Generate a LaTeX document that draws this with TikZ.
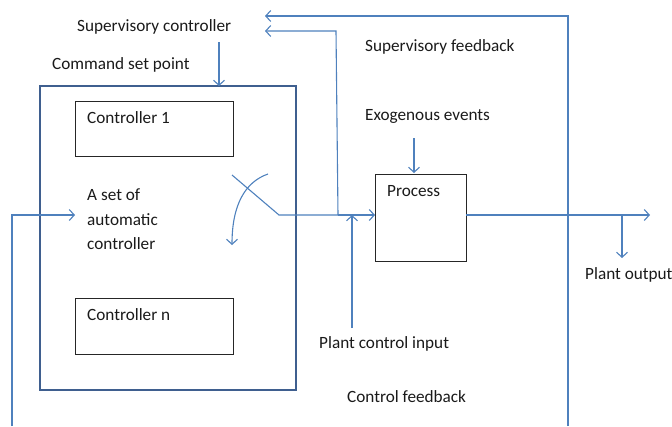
\documentclass[tikz,border=0pt]{standalone}
\usepackage{fontspec}
\setmainfont{Carlito}
\usetikzlibrary{arrows.meta}
\definecolor{lblue}{HTML}{4F81BD}
\definecolor{dblue}{HTML}{3F5F8F}
\definecolor{txt}{HTML}{1A1A1A}
\begin{document}
\begin{tikzpicture}[x=1pt,y=-1pt,
  conn/.style={draw=lblue,line width=1.1pt},
  arr/.style={conn,-{Straight Barb[length=5pt,width=11pt]}},
  lbl/.style={anchor=west,inner sep=0pt,text=txt,font=\fontsize{17.2}{24.5}\selectfont},
  ctrlbox/.style={draw=black!85,line width=1.2pt}]
\useasboundingbox (0,0) rectangle (672,426);
% big box
\draw[draw=dblue,line width=2.2pt] (40,86) -- (255,86);
\draw[draw=dblue,line width=2.6pt,line join=miter] (255,86) -- (296,86) -- (296,390) -- (40,390) -- (40,85);
\node[ctrlbox,minimum width=158pt,minimum height=55pt,anchor=north west] (c1) at (75,101) {};
\node[ctrlbox,minimum width=158pt,minimum height=56pt,anchor=north west] (cn) at (75,298) {};
\node[ctrlbox,minimum width=91pt,minimum height=87pt,anchor=north west] (proc) at (375,174) {};
% texts
\node[lbl] (tsc) at (77,27) {Supervisory controller};
\node[lbl] (tcsp) at (52,65) {Command set point};
\node[lbl] (tc1) at (87,118) {Controller 1};
\node[lbl,align=left,anchor=north west] (tset) at (87,189) {A set of\\automatic\\controller};
\node[lbl] (tcn) at (87,315) {Controller n};
\node[lbl] (tsf) at (365,47) {Supervisory feedback};
\node[lbl] (tex) at (365,116) {Exogenous events};
\node[lbl] (tpr) at (387,191) {Process};
\node[lbl] (tpo) at (585,275) {Plant output};
\node[lbl] (tpci) at (319,344) {Plant control input};
\node[lbl] (tcf) at (347,397) {Control feedback};
% coordinates
\coordinate (scin) at (219,42);
\coordinate (boxtop) at (219,86);
\coordinate (sw1) at (232,175);
\coordinate (sw2) at (279,215);
\coordinate (jn) at (338,215);
\coordinate (procin) at (375,215);
\coordinate (procout) at (466,215);
\coordinate (outend) at (650,215);
\coordinate (br) at (622,215);
\coordinate (brend) at (622,258);
\coordinate (pcibot) at (352,328);
\coordinate (pcitop) at (352,215);
\coordinate (exs) at (414,138);
\coordinate (exe) at (414,173);
\coordinate (sf1s) at (568,426);
\coordinate (sf1t) at (568,16);
\coordinate (sf1e) at (265,16);
\coordinate (sf2t) at (336,31);
\coordinate (sf2e) at (265,31);
\coordinate (lfb) at (12,426);
\coordinate (lfc) at (12,215);
\coordinate (lfe) at (75,215);
\coordinate (arcs) at (268,174);
\coordinate (arce) at (232,245);
% connectors
\draw[arr] (scin) -- (boxtop);
\draw[conn] (sw1) -- (sw2) -- (jn);
\draw[arr] (jn) -- (procin);
\draw[arr] (procout) -- (outend);
\draw[arr] (br) -- (brend);
\draw[arr] (pcibot) -- (pcitop);
\draw[arr] (exs) -- (exe);
\draw[arr] (sf1s) -- (sf1t) -- (sf1e);
\draw[arr] (jn) -- (sf2t) -- (sf2e);
\draw[arr] (lfb) -- (lfc) -- (lfe);
\draw[arr] (arcs) .. controls (245,182) and (232,205) .. (arce);
\end{tikzpicture}
\end{document}
